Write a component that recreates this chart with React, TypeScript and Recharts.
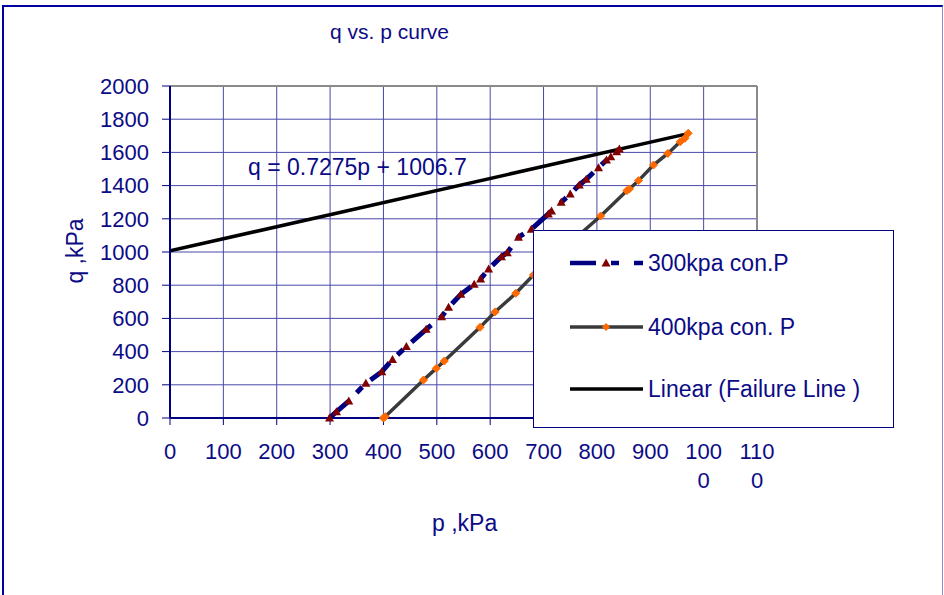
import { LineChart, Line, XAxis, YAxis, CartesianGrid, ReferenceLine } from 'recharts'

// 300 kPa confining pressure
const p300 = [299, 312, 335, 367, 397, 417, 443, 480, 509, 522, 545, 570, 582, 597, 621, 632, 653, 677, 709, 715, 733, 750, 767, 780, 803, 818, 826, 837, 842]
const q300 = [0, 38, 102, 209, 279, 353, 430, 534, 610, 667, 745, 805, 837, 898, 972, 996, 1089, 1137, 1229, 1247, 1299, 1349, 1404, 1438, 1508, 1554, 1574, 1604, 1620]

// 400 kPa confining pressure
const p400 = [400, 403, 475, 499, 514, 581, 609, 648, 681, 807, 856, 861, 878, 906, 933, 956, 965, 971]
const q400 = [0, 8, 229, 299, 343, 546, 639, 751, 861, 1217, 1369, 1380, 1430, 1524, 1594, 1664, 1685, 1715]

// failure line (trendline end points)
const pFail = [0, 975]
const qFail = [1007, 1716]

const xTicks = [0, 100, 200, 300, 400, 500, 600, 700, 800, 900, 1000, 1100]
const yTicks = [0, 200, 400, 600, 800, 1000, 1200, 1400, 1600, 1800, 2000]
const seriesNames = ['300kpa con.P', '400kpa con. P', 'Linear (Failure Line )']

const toRows = (ps: number[], qs: number[]) => ps.map((p, i) => ({ p, q: qs[i] }))

const INK = '#0b0b86'
const GRID = '#4848aa'
const FONT = '"Liberation Sans", Arial, sans-serif'

function Triangle(props: any) {
  const { cx, cy, index } = props
  if (cx == null || cy == null) return <g key={`t${index}`} />
  return <path key={`t${index}`} d={`M${cx},${cy - 4.5} L${cx + 4.5},${cy + 3.5} L${cx - 4.5},${cy + 3.5} Z`} fill="#800000" />
}

function Diamond(props: any) {
  const { cx, cy, index } = props
  if (cx == null || cy == null) return <g key={`d${index}`} />
  return <path key={`d${index}`} d={`M${cx},${cy - 4} L${cx + 4},${cy} L${cx},${cy + 4} L${cx - 4},${cy} Z`} fill="#ff6a00" stroke="#ff6a00" strokeLinejoin="round" />
}

// Excel wraps the wide labels (1000 -> "100" / "0")
function XTick({ x, y, payload }: any) {
  const s = String(payload.value)
  const parts = s.length > 3 ? [s.slice(0, 3), s.slice(3)] : [s]
  return (
    <text x={x} y={y} fill={INK} fontSize={22} fontFamily={FONT} textAnchor="middle">
      {parts.map((t, i) => (
        <tspan key={i} x={x} dy={i === 0 ? '0.71em' : 29}>{t}</tspan>
      ))}
    </text>
  )
}

export default function App() {
  return (
    <div style={{ position: 'absolute', left: 0, top: 0, width: 944, height: 595, overflow: 'hidden', background: '#fff', fontFamily: FONT }}>
      <div style={{
        position: 'absolute', left: 2, top: 5, width: 941, height: 590, boxSizing: 'border-box',
        borderLeft: '2px solid #0000a0', borderTop: '2px solid #0000a0', borderRight: '1px solid #8c8cd0',
      }} />

      <LineChart width={944} height={595} margin={{ top: 86, right: 187, left: 110, bottom: 117 }} style={{ position: 'absolute', left: 0, top: 0 }}>
        <CartesianGrid stroke={GRID} strokeWidth={1} horizontalValues={yTicks} verticalValues={xTicks} />
        <ReferenceLine y={2000} stroke="#8a8a8a" strokeWidth={2} />
        <ReferenceLine x={1100} stroke="#8a8a8a" strokeWidth={2} />
        <XAxis
          dataKey="p"
          type="number"
          domain={[0, 1100]}
          ticks={xTicks}
          interval={0}
          height={60}
          tickSize={7}
          tickMargin={18}
          tick={<XTick />}
          axisLine={{ stroke: '#000080', strokeWidth: 2 }}
          tickLine={{ stroke: '#000080' }}
          allowDataOverflow
        />
        <YAxis
          type="number"
          domain={[0, 2000]}
          ticks={yTicks}
          interval={0}
          width={60}
          tickSize={8}
          tickMargin={13}
          tick={{ fill: INK, fontSize: 22, fontFamily: FONT }}
          axisLine={{ stroke: '#000080', strokeWidth: 2 }}
          tickLine={{ stroke: '#000080' }}
        />
        <Line
          data={toRows(p300, q300)}
          dataKey="q"
          name={seriesNames[0]}
          stroke="#000080"
          strokeWidth={5}
          strokeDasharray="26 11 8 11"
          dot={Triangle}
          activeDot={false}
          isAnimationActive={false}
        />
        <Line
          data={toRows(p400, q400)}
          dataKey="q"
          name={seriesNames[1]}
          stroke="#3a3a3a"
          strokeWidth={3.5}
          dot={Diamond}
          activeDot={false}
          isAnimationActive={false}
        />
        <Line
          data={toRows(pFail, qFail)}
          dataKey="q"
          name={seriesNames[2]}
          stroke="#000000"
          strokeWidth={3.5}
          dot={false}
          activeDot={false}
          isAnimationActive={false}
        />
      </LineChart>

      <svg width={944} height={595} style={{ position: 'absolute', left: 0, top: 0, pointerEvents: 'none' }}>
        <text x={330} y={39} fill={INK} fontSize={21} fontFamily={FONT}>q vs. p curve</text>
        <text x={248} y={175} fill={INK} fontSize={23} fontFamily={FONT}>q = 0.7275p + 1006.7</text>
        <text x={432} y={531} fill={INK} fontSize={23} fontFamily={FONT}>p ,kPa</text>
        <text x={83} y={251} fill={INK} fontSize={23} fontFamily={FONT} textAnchor="middle" transform="rotate(-90 83 251)">q ,kPa</text>
      </svg>

      <div style={{ position: 'absolute', left: 533, top: 230, width: 361, height: 198, boxSizing: 'border-box', border: '1px solid #000080', background: '#fff' }}>
        <svg width={359} height={196} style={{ position: 'absolute', left: 0, top: 0 }}>
          <g transform="translate(0,32)">
            <line x1={36} x2={62} y1={0} y2={0} stroke="#000080" strokeWidth={4.5} />
            <line x1={77} x2={85} y1={0} y2={0} stroke="#000080" strokeWidth={4.5} />
            <line x1={100} x2={109} y1={0} y2={0} stroke="#000080" strokeWidth={4.5} />
            <path d="M72,-4.5 L76.5,3.5 L67.5,3.5 Z" fill="#800000" />
            <text x={114} y={0} dy="0.35em" fill={INK} fontSize={23} fontFamily={FONT}>{seriesNames[0]}</text>
          </g>
          <g transform="translate(0,96)">
            <line x1={36} x2={109} y1={0} y2={0} stroke="#3a3a3a" strokeWidth={3.5} />
            <path d="M72,-4 L76,0 L72,4 L68,0 Z" fill="#ff6a00" />
            <text x={114} y={0} dy="0.35em" fill={INK} fontSize={23} fontFamily={FONT}>{seriesNames[1]}</text>
          </g>
          <g transform="translate(0,158)">
            <line x1={36} x2={109} y1={0} y2={0} stroke="#000000" strokeWidth={3.5} />
            <text x={114} y={0} dy="0.35em" fill={INK} fontSize={23} fontFamily={FONT}>{seriesNames[2]}</text>
          </g>
        </svg>
      </div>
    </div>
  )
}
